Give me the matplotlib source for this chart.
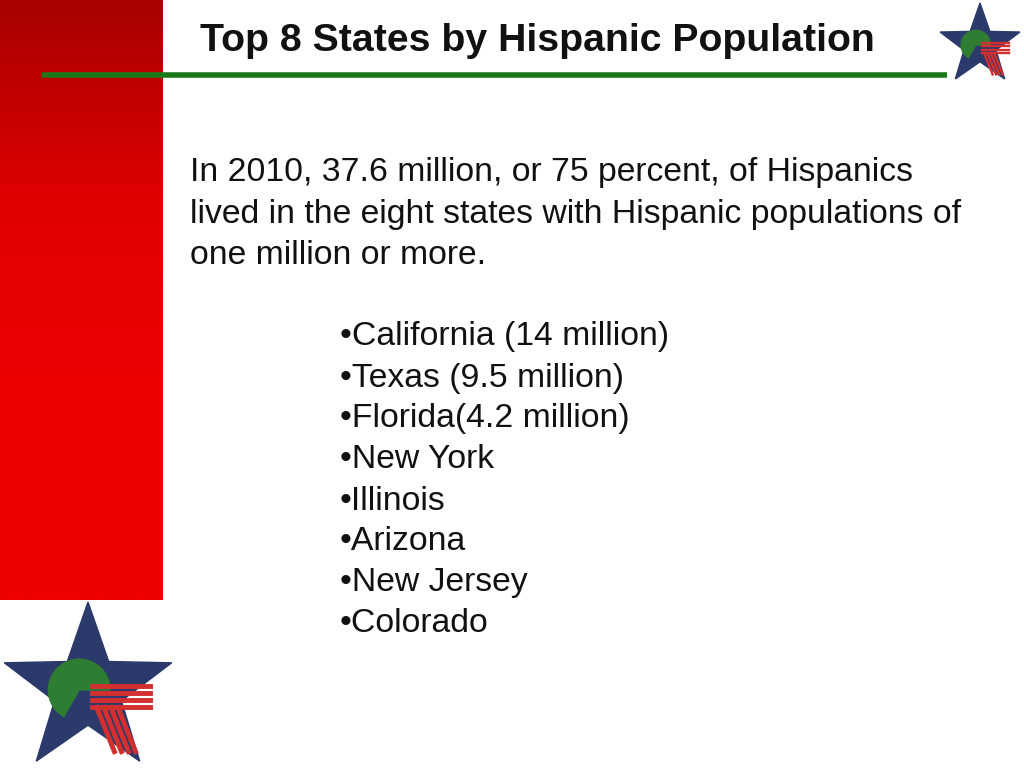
import numpy as np
import matplotlib
matplotlib.use("Agg")
import matplotlib.pyplot as plt
from matplotlib.patches import Polygon, Wedge
from matplotlib.colors import LinearSegmentedColormap

title = "Top 8 States by Hispanic Population"
intro = ["In 2010, 37.6 million, or 75 percent, of Hispanics",
         "lived in the eight states with Hispanic populations of",
         "one million or more."]
states = ["California", "Texas", "Florida", "New York", "Illinois", "Arizona", "New Jersey", "Colorado"]
labels = [" (14 million)", " (9.5 million)", "(4.2 million)", "", "", "", "", ""]

fig = plt.figure(figsize=(10.24, 7.68), dpi=100)
ax = fig.add_axes([0, 0, 1, 1])
ax.set_xlim(0, 1024); ax.set_ylim(768, 0); ax.axis("off")

grad = np.linspace(0, 1, 256).reshape(-1, 1)
cmap = LinearSegmentedColormap.from_list("r", ["#a80000", "#e00000", "#ee0000", "#f00000"])
ax.imshow(grad, cmap=cmap, extent=(0, 163, 600, 0), aspect="auto", zorder=1)

ax.plot([42, 947], [75, 75], color="#1a7a1a", lw=4, solid_capstyle="butt", zorder=2)

ax.text(200, 41, title, fontsize=28.3, fontweight="bold", va="center", ha="left",
        family="Liberation Sans", color="#111111")

for i, line in enumerate(intro):
    ax.text(190, 173 + 41 * i, line, fontsize=24.3, va="center", family="Liberation Sans", color="#111111")
for i, (s, l) in enumerate(zip(states, labels)):
    ax.text(340, 337 + 41 * i, "\u2022" + s + l, fontsize=24.3, va="center",
            family="Liberation Sans", color="#111111")

def star(cx, cy, R):
    pts = []
    for k in range(10):
        r = R if k % 2 == 0 else R * 0.4
        a = np.pi / 2 + k * np.pi / 5
        pts.append((cx + r * np.cos(a), cy - r * np.sin(a)))
    ax.add_patch(Polygon(pts, closed=True, color="#2b3a6b", zorder=3))
    ax.add_patch(Wedge((cx - R * 0.1, cy), R * 0.35, 120, 360, color="#2e7d32", zorder=4))
    for j in range(4):
        ax.plot([cx + R * 0.05, cx + R * 0.7], [cy - R * 0.05 + j * R * 0.08] * 2,
                color="#d32f2f", lw=R * 0.04, zorder=4)
        ax.plot([cx + R * 0.1 + j * R * 0.08, cx + R * 0.3 + j * R * 0.08], [cy + R * 0.2, cy + R * 0.7],
                color="#d32f2f", lw=R * 0.04, zorder=4)

star(980, 45, 42)
star(88, 690, 88)

fig.savefig("out.png", dpi=100)
